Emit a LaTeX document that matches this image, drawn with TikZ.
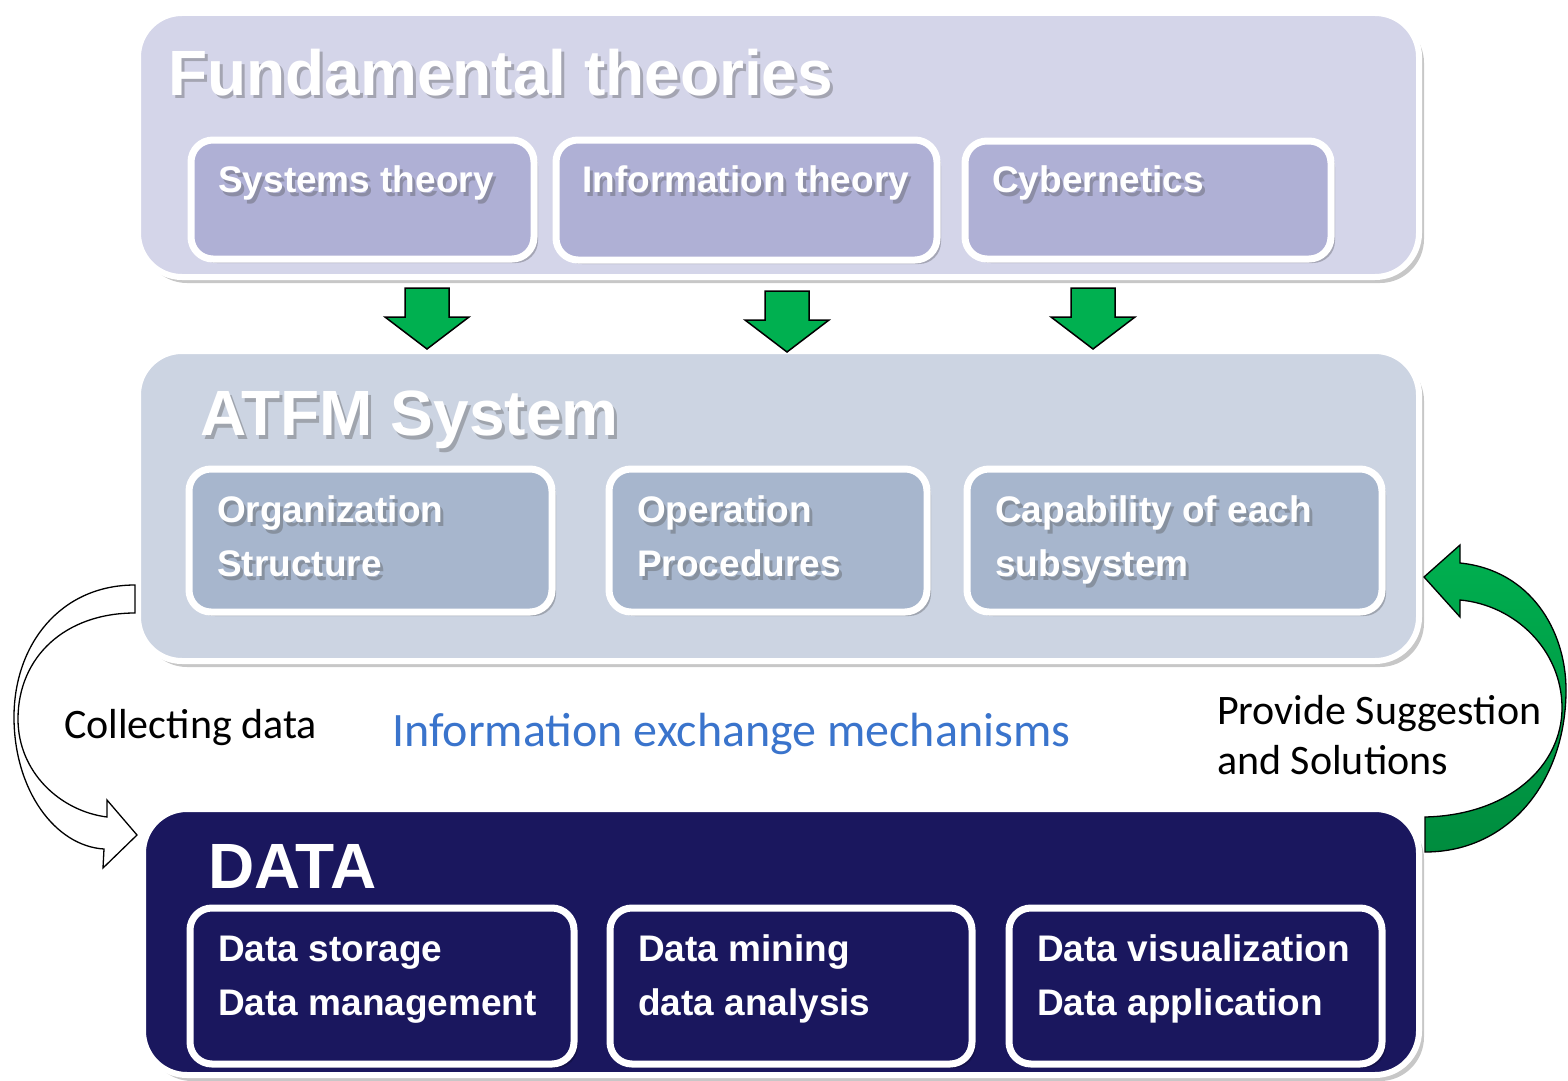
\documentclass[tikz,border=0pt]{standalone}
\usepackage{fontspec}
\setmainfont{Liberation Sans}
\newfontfamily\calfont{Carlito}
\usetikzlibrary{shadows}
\definecolor{topbg}{RGB}{212,213,233}
\definecolor{topbox}{RGB}{175,176,213}
\definecolor{midbg}{RGB}{204,212,226}
\definecolor{midbox}{RGB}{167,182,205}
\definecolor{navy}{RGB}{26,23,94}
\definecolor{agreen}{RGB}{0,176,80}
\definecolor{agreendk}{RGB}{0,140,62}
\definecolor{infoblue}{RGB}{58,116,204}
\newcommand\shtxt[5]{%
  \node[#4,text=black!70,opacity=0.35] at (#2+3,#3+4) {#5};
  \node[#4] (#1) at (#2,#3) {#5};}
\begin{document}
\begin{tikzpicture}[x=1pt,y=-1pt,
  panel/.style={rectangle, rounded corners=44pt, draw=white, line width=6pt, anchor=north west, inner sep=0pt, outer sep=0pt,
    drop shadow={shadow xshift=5pt, shadow yshift=-6pt, opacity=0.22, fill=black}},
  sub/.style={rectangle, rounded corners=22pt, draw=white, line width=7pt, anchor=north west, inner sep=0pt, outer sep=0pt,
    drop shadow={shadow xshift=4pt, shadow yshift=-4pt, opacity=0.22, fill=black}},
  title/.style={anchor=base west, inner sep=0pt, text=white, font=\bfseries\fontsize{64}{70}\selectfont},
  lbl/.style={anchor=base west, inner sep=0pt, text=white, font=\bfseries\fontsize{37}{44}\selectfont},
  cal/.style={anchor=base west, inner sep=0pt, font=\calfont\fontsize{42}{50}\selectfont},
  garrow/.style={fill=agreen, draw=black, line width=1.5pt, line join=miter}
]
\useasboundingbox (0,0) rectangle (1568,1081);
\fill[white] (0,0) rectangle (1568,1081);

% panels
\node[panel, fill=topbg, minimum width=1281pt, minimum height=264pt] (top) at (138,13) {};
\node[panel, fill=midbg, minimum width=1281pt, minimum height=310pt] (mid) at (138,351) {};
\node[panel, fill=navy, minimum width=1276pt, minimum height=266pt] (bot) at (143,809) {};

% top sub boxes
\node[sub, fill=topbox, minimum width=343pt, minimum height=119pt] (st) at (191,140) {};
\node[sub, fill=topbox, minimum width=381pt, minimum height=120pt] (it) at (556,140) {};
\node[sub, fill=topbox, minimum width=366pt, minimum height=118pt] (cy) at (965,141) {};
% middle sub boxes
\node[sub, fill=midbox, minimum width=363pt, minimum height=143pt] (os) at (189,469) {};
\node[sub, fill=midbox, minimum width=318pt, minimum height=143pt] (op) at (609,469) {};
\node[sub, fill=midbox, minimum width=415pt, minimum height=143pt] (ca) at (967,469) {};
% bottom sub boxes
\node[sub, fill=navy, minimum width=384pt, minimum height=156pt] (ds) at (190,908) {};
\node[sub, fill=navy, minimum width=362pt, minimum height=156pt] (dm) at (610,908) {};
\node[sub, fill=navy, minimum width=373pt, minimum height=156pt] (dv) at (1009,908) {};

% titles
\shtxt{ttop}{168}{95}{title}{Fundamental theories}
\shtxt{tmid}{200}{435}{title}{ATFM System}
\node[title] (tbot) at (208,888) {DATA};

% top labels
\shtxt{lst}{218}{192}{lbl}{Systems theory}
\shtxt{lit}{582}{192}{lbl}{Information theory}
\shtxt{lcy}{992}{192}{lbl}{Cybernetics}
% middle labels
\shtxt{los1}{217}{522}{lbl}{Organization}
\shtxt{los2}{217}{576}{lbl}{Structure}
\shtxt{lop1}{637}{522}{lbl}{Operation}
\shtxt{lop2}{637}{576}{lbl}{Procedures}
\shtxt{lca1}{995}{522}{lbl}{Capability of each}
\shtxt{lca2}{995}{576}{lbl}{subsystem}
% bottom labels
\node[lbl] (lds1) at (218,961) {Data storage};
\node[lbl] (lds2) at (218,1015) {Data management};
\node[lbl] (ldm1) at (638,961) {Data mining};
\node[lbl] (ldm2) at (638,1015) {data analysis};
\node[lbl] (ldv1) at (1037,961) {Data visualization};
\node[lbl] (ldv2) at (1037,1015) {Data application};

% green down arrows
\foreach \cx/\cy in {427/288, 787/291, 1093/288}{
  \draw[garrow, shift={(\cx,\cy)}] (-22,0) -- (22,0) -- (22,29) -- (42,29) -- (0,61) -- (-42,29) -- (-22,29) -- cycle;
}

% left white curved arrow (collecting data)
\draw[fill=white, draw=black, line width=1.3pt, line join=miter]
  (135,585) .. controls (60,585) and (14,645) .. (14,717)
  .. controls (14,790) and (55,846) .. (104,849)
  -- (103,868) -- (137,835) -- (107,800) -- (107,817)
  .. controls (60,811) and (18,772) .. (18,719)
  .. controls (18,657) and (65,613) .. (135,613) -- cycle;

% right green curved arrow (suggestions)
\draw[top color=agreen, bottom color=agreendk, draw=black, line width=1.3pt, line join=miter]
  (1425,817) .. controls (1510,815) and (1562,765) .. (1562,708)
  .. controls (1562,650) and (1515,605) .. (1460,600)
  -- (1460,617) -- (1424,577) -- (1460,545) -- (1460,563)
  .. controls (1530,570) and (1566,630) .. (1566,690)
  .. controls (1566,780) and (1510,852) .. (1425,852) -- cycle;

% free texts
\node[cal] (coll) at (64,738) {Collecting data};
\node[cal, text=infoblue, font=\calfont\fontsize{48}{54}\selectfont] (info) at (392,746) {Information exchange mechanisms};
\node[cal] (prov1) at (1217,724) {Provide Suggestion};
\node[cal] (prov2) at (1217,774) {and Solutions};
\end{tikzpicture}
\end{document}
